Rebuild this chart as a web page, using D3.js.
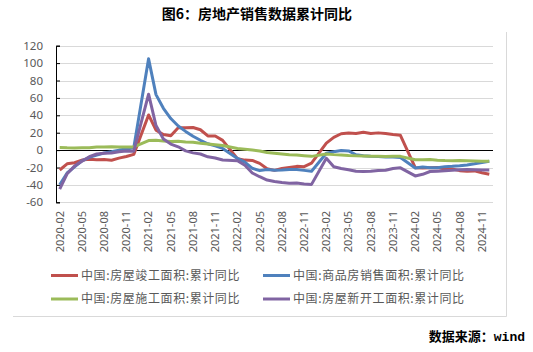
<!DOCTYPE html>
<html>
<head>
<meta charset="utf-8">
<script src="https://cdn.jsdelivr.net/npm/d3@7"></script>
<style>
body { margin: 0; background: #fff; }
text { font-family: "Noto Sans CJK SC", "Noto Sans", sans-serif; }
</style>
</head>
<body>
<div id="chart"></div>
<script>
// monthly categories 2020-02 .. 2024-12 (January has no data)
const months = d3.utcMonth.range(new Date(Date.UTC(2020, 1, 1)), new Date(Date.UTC(2025, 0, 1)))
    .map(d3.utcFormat("%Y-%m"));

const tickLabels = ["2020-02", "2020-05", "2020-08", "2020-11", "2021-02", "2021-05", "2021-08",
    "2021-11", "2022-02", "2022-05", "2022-08", "2022-11", "2023-02", "2023-05", "2023-08",
    "2023-11", "2024-02", "2024-05", "2024-08", "2024-11"];

const yTicks = [-60, -40, -20, 0, 20, 40, 60, 80, 100, 120];

// 房屋竣工面积:累计同比
const completed = [
    -22.9, -15.8, -14.5, -11.5, -10.5, -11.0, -10.8, -11.6, -9.2, -7.3, -4.9,
    null, 40.4, 22.9, 17.9, 16.4, 25.7, 25.7, 26.0, 23.4, 16.3, 16.2, 11.2,
    null, -9.8, -11.5, -11.9, -15.3, -21.5, -23.3, -21.1, -19.9, -18.7, -19.0, -15.0,
    null, 8.0, 14.7, 18.8, 19.6, 19.0, 20.5, 19.2, 19.8, 19.0, 17.9, 17.0,
    null, -20.2, -20.7, -20.4, -20.1, -21.8, -21.8, -23.6, -24.4, -23.9, -26.0, -27.7
];
// 商品房销售面积:累计同比
const sales = [
    -39.9, -26.3, -19.3, -12.3, -8.4, -5.8, -3.3, -1.8, 0.0, 1.3, 2.6,
    null, 104.9, 63.8, 48.1, 36.3, 27.7, 21.5, 15.9, 11.3, 7.3, 4.8, 1.9,
    null, -9.6, -13.8, -20.9, -23.6, -22.2, -23.1, -23.0, -22.2, -22.3, -23.3, -24.3,
    null, -3.6, -1.8, -0.4, -0.9, -5.3, -6.5, -7.1, -7.5, -7.8, -8.0, -8.5,
    null, -20.5, -19.4, -20.2, -20.3, -19.0, -18.6, -18.0, -17.1, -15.8, -14.3, -12.9
];
// 房屋施工面积:累计同比
const underway = [
    2.9, 2.6, 2.5, 2.6, 2.6, 3.6, 3.6, 3.9, 3.6, 3.6, 3.7,
    null, 11.0, 11.2, 10.5, 10.0, 10.2, 9.3, 8.9, 7.9, 7.1, 6.1, 5.2,
    null, 1.8, 1.0, 0.0, -1.0, -2.8, -3.7, -4.5, -5.3, -5.7, -6.5, -7.2,
    null, -4.4, -5.2, -5.6, -6.2, -6.6, -6.8, -7.1, -7.1, -7.3, -7.2, -7.2,
    null, -11.0, -11.1, -10.8, -11.6, -12.0, -12.1, -12.0, -12.2, -12.4, -12.7, -12.7
];
// 房屋新开工面积:累计同比
const newStarts = [
    -44.9, -27.2, -18.4, -12.8, -7.6, -4.5, -3.6, -3.4, -2.0, -1.0, -1.2,
    null, 64.3, 28.2, 12.8, 6.9, 3.8, -0.9, -3.2, -4.5, -7.7, -9.1, -11.4,
    null, -12.2, -17.5, -26.3, -30.6, -34.4, -36.1, -37.2, -38.0, -37.8, -38.9, -39.4,
    null, -9.4, -19.2, -21.2, -22.6, -24.3, -24.5, -24.4, -23.4, -23.2, -21.2, -20.4,
    null, -29.7, -27.8, -24.6, -24.2, -23.7, -23.2, -22.5, -22.2, -22.6, -23.0, -23.0
];

const seriesNames = ["中国:房屋竣工面积:累计同比", "中国:商品房销售面积:累计同比",
    "中国:房屋施工面积:累计同比", "中国:房屋新开工面积:累计同比"];
const seriesValues = [completed, sales, underway, newStarts];
const colors = ["#C0504D", "#4F81BD", "#9BBB59", "#8064A2"];

const width = 533, height = 352;
const plot = { left: 56, right: 493, top: 45.7, bottom: 202.3 };

const svg = d3.select("#chart").append("svg")
    .attr("width", width)
    .attr("height", height);

// title
svg.append("text")
    .attr("x", 257)
    .attr("y", 19)
    .attr("text-anchor", "middle")
    .style("font-size", "14px")
    .style("font-weight", "bold")
    .style("fill", "#000")
    .text("图6：房地产销售数据累计同比");

// chart frame (only right and bottom edges show)
svg.append("line").attr("x1", 506.5).attr("x2", 506.5).attr("y1", 32).attr("y2", 316.5)
    .attr("stroke", "#d9d9d9");
svg.append("line").attr("x1", 13).attr("x2", 506.5).attr("y1", 316.5).attr("y2", 316.5)
    .attr("stroke", "#d9d9d9");

const x = d3.scaleBand().domain(months).range([plot.left, plot.right]);
const xc = m => x(m) + x.bandwidth() / 2;
const y = d3.scaleLinear().domain([-60, 120]).range([plot.bottom, plot.top]);

// gridlines
svg.append("g").selectAll("line")
    .data(yTicks.filter(t => t !== 0))
    .join("line")
    .attr("x1", plot.left).attr("x2", plot.right)
    .attr("y1", d => Math.round(y(d)) + 0.5).attr("y2", d => Math.round(y(d)) + 0.5)
    .attr("stroke", "#d9d9d9")
    .attr("stroke-width", 1.2);

// y axis
const yAxis = svg.append("g")
    .attr("transform", `translate(${plot.left},0)`)
    .call(d3.axisRight(y).tickValues(yTicks).tickSize(4).tickFormat(""));
yAxis.select(".domain").attr("stroke", "#000");
yAxis.selectAll(".tick line").attr("stroke", "#000");

svg.append("g").selectAll("text")
    .data(yTicks)
    .join("text")
    .attr("x", 43)
    .attr("y", d => y(d))
    .attr("dy", "0.35em")
    .attr("text-anchor", "end")
    .style("font-family", "'Noto Sans', sans-serif")
    .style("font-size", "11.5px")
    .style("fill", "#595959")
    .text(d => d);

// zero line
svg.append("line")
    .attr("x1", plot.left).attr("x2", plot.right)
    .attr("y1", Math.round(y(0)) + 0.5).attr("y2", Math.round(y(0)) + 0.5)
    .attr("stroke", "#000");

// x tick labels, rotated
svg.append("g").selectAll("text")
    .data(tickLabels)
    .join("text")
    .attr("transform", d => `translate(${xc(d)},211) rotate(-90)`)
    .attr("dy", "0.35em")
    .attr("text-anchor", "end")
    .style("font-family", "'Noto Sans', sans-serif")
    .style("font-size", "11px")
    .style("fill", "#595959")
    .text(d => d);

// series lines (January gaps are bridged)
const line = d3.line()
    .x(d => xc(d.month))
    .y(d => y(d.value));

seriesValues.forEach((vals, i) => {
    const pts = months.map((m, j) => ({ month: m, value: vals[j] }))
        .filter(d => d.value !== null);
    svg.append("path")
        .datum(pts)
        .attr("fill", "none")
        .attr("stroke", colors[i])
        .attr("stroke-width", 3)
        .attr("stroke-linejoin", "round")
        .attr("d", line);
});

// legend
const legendPos = [[51, 275.5], [263, 275.5], [51, 299], [263, 299]];
const legend = svg.append("g").selectAll("g")
    .data(seriesNames)
    .join("g")
    .attr("transform", (d, i) => `translate(${legendPos[i][0]},${legendPos[i][1]})`);
legend.append("line")
    .attr("x1", 0).attr("x2", 27)
    .attr("stroke", (d, i) => colors[i])
    .attr("stroke-width", 3);
legend.append("text")
    .attr("x", 30)
    .attr("dy", "0.35em")
    .style("font-size", "12px")
    .style("letter-spacing", "0.6px")
    .style("fill", "#595959")
    .text(d => d);

// source
const src = svg.append("text")
    .attr("x", 525)
    .attr("y", 341)
    .attr("text-anchor", "end")
    .style("font-size", "13px")
    .style("font-weight", "bold")
    .style("fill", "#000");
src.append("tspan").text("数据来源：");
src.append("tspan").style("font-family", "'Liberation Mono', monospace").text("wind");
</script>
</body>
</html>
